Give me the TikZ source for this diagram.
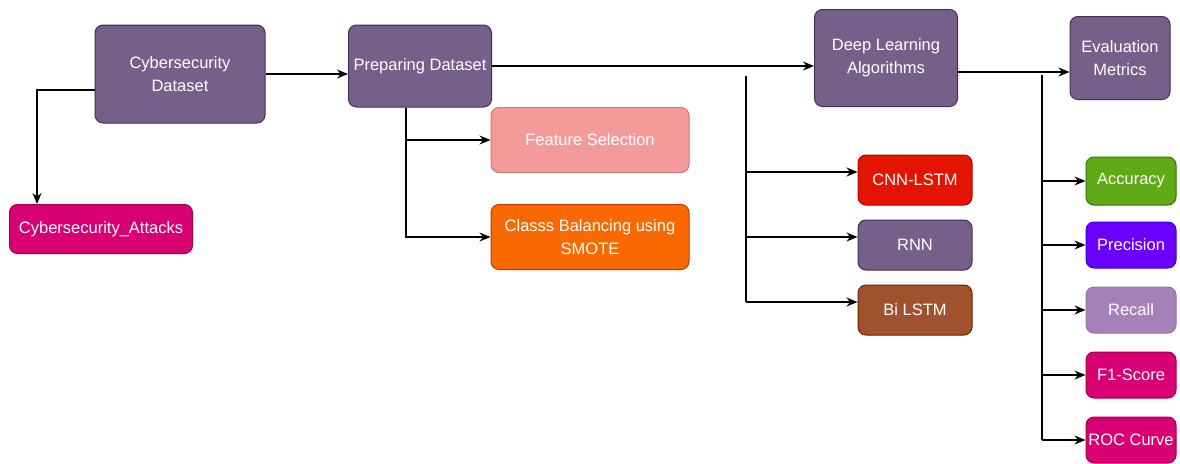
\documentclass[tikz,border=0pt]{standalone}
\usepackage{fontspec}
\setmainfont{Liberation Sans}
\usetikzlibrary{arrows.meta}
\definecolor{dpurple}{HTML}{76608A}
\definecolor{dpurpleline}{HTML}{432D57}
\definecolor{dmagenta}{HTML}{D80073}
\definecolor{dmagentaline}{HTML}{A50040}
\definecolor{dpink}{HTML}{F49A9A}
\definecolor{dpinkline}{HTML}{C77A7A}
\definecolor{dorange}{HTML}{FA6800}
\definecolor{dorangeline}{HTML}{C73500}
\definecolor{dred}{HTML}{E51400}
\definecolor{dredline}{HTML}{B20000}
\definecolor{dbrown}{HTML}{A0522D}
\definecolor{dbrownline}{HTML}{6D1F00}
\definecolor{dgreen}{HTML}{60A917}
\definecolor{dgreenline}{HTML}{2D7600}
\definecolor{dviolet}{HTML}{6A00FF}
\definecolor{dvioletline}{HTML}{3700CC}
\definecolor{dlilac}{HTML}{A680B8}
\definecolor{dlilacline}{HTML}{9673A6}
\tikzset{
every node/.style={rectangle, rounded corners=8pt, draw, line width=1pt, text=white, align=center,
  inner sep=2pt, font=\fontsize{16.5}{23}\selectfont},
box/.style n args={4}{minimum width=#1, minimum height=#2, fill=#3, draw=#4},
arr/.style={-{Stealth[length=11pt,width=9pt]}, line width=1.5pt}
}
\begin{document}
\begin{tikzpicture}[x=1pt, y=-1pt]
\useasboundingbox (0,0) rectangle (1180,463);

\node[box={170pt}{98pt}{dpurple}{dpurpleline}] (cd)  at (180,74) {Cybersecurity\\Dataset};
\node[box={143pt}{82pt}{dpurple}{dpurpleline}] (pd)  at (420,66) {Preparing Dataset};
\node[box={183pt}{49pt}{dmagenta}{dmagentaline}] (att) at (101,229) {Cybersecurity\_Attacks};
\node[box={198pt}{65pt}{dpink}{dpinkline}] (fs)  at (590,140) {Feature Selection};
\node[box={198pt}{65pt}{dorange}{dorangeline}] (cb)  at (590,237) {Classs Balancing using\\SMOTE};
\node[box={143pt}{97pt}{dpurple}{dpurpleline}] (dl)  at (886,58) {Deep Learning\\Algorithms};
\node[box={114pt}{50pt}{dred}{dredline}] (cnn) at (915,180) {CNN-LSTM};
\node[box={114pt}{50pt}{dpurple}{dpurpleline}] (rnn) at (915,245) {RNN};
\node[box={114pt}{50pt}{dbrown}{dbrownline}] (bil) at (915,310) {Bi LSTM};
\node[box={100pt}{83pt}{dpurple}{dpurpleline}] (em)  at (1120,58) {Evaluation\\Metrics};
\node[box={90pt}{48pt}{dgreen}{dgreenline}] (acc) at (1131,181) {Accuracy};
\node[box={90pt}{46pt}{dviolet}{dvioletline}] (pre) at (1131,245) {Precision};
\node[box={90pt}{46pt}{dlilac}{dlilacline}] (rec) at (1131,310) {Recall};
\node[box={90pt}{46pt}{dmagenta}{dmagentaline}] (f1)  at (1131,375) {F1-Score};
\node[box={90pt}{46pt}{dmagenta}{dmagentaline}] (roc) at (1131,440) {ROC Curve};

\coordinate (v1) at (746,76);
\coordinate (v2) at (1042,75);
\coordinate (cnnin) at ([yshift=8pt]cnn.west);
\coordinate (rnnin) at ([yshift=8pt]rnn.west);
\coordinate (bilin) at ([yshift=8pt]bil.west);

\draw[arr] (cd) -- (cd -| pd.west);
\draw[arr] ([yshift=-16pt]cd.west) -| ([xshift=-64pt]att.north);
\draw[arr] ([xshift=-14pt]pd.south) |- (fs.west);
\draw[arr] ([xshift=-14pt]pd.south) |- (cb.west);
\draw[arr] (pd.east) -- (pd.east -| dl.west);

\draw[line width=1.5pt] (v1) -- (v1 |- bilin);
\draw[arr] (v1 |- cnnin) -- (cnnin);
\draw[arr] (v1 |- rnnin) -- (rnnin);
\draw[arr] (v1 |- bilin) -- (bilin);

\draw[arr] ([yshift=-14pt]dl.east) -- ([yshift=-14pt]em.west);
\draw[line width=1.5pt] (v2) -- (v2 |- roc.west);
\draw[arr] (v2 |- acc.west) -- (acc.west);
\draw[arr] (v2 |- pre.west) -- (pre.west);
\draw[arr] (v2 |- rec.west) -- (rec.west);
\draw[arr] (v2 |- f1.west) -- (f1.west);
\draw[arr] (v2 |- roc.west) -- (roc.west);

\end{tikzpicture}
\end{document}
